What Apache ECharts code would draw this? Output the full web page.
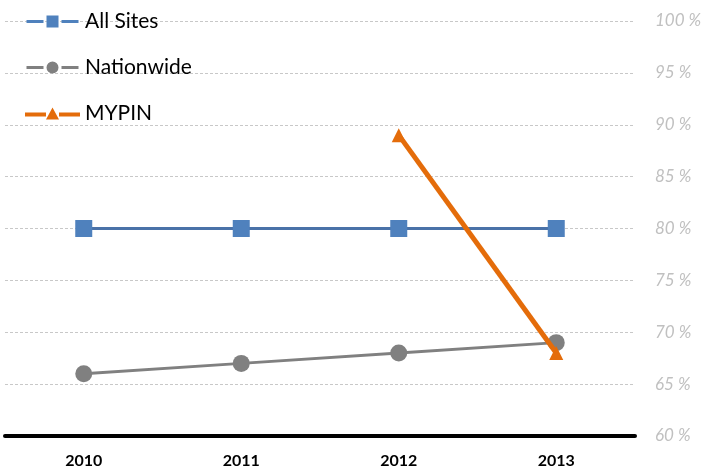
<!DOCTYPE html>
<html>
<head>
<meta charset="utf-8">
<script src="https://cdn.jsdelivr.net/npm/echarts@6/dist/echarts.min.js"></script>
<style>
  html, body { margin: 0; padding: 0; background: #fff; }
  #chart { width: 705px; height: 469px; }
</style>
</head>
<body>
<div id="chart"></div>
<script>
var years = ['2010', '2011', '2012', '2013'];
var allSites = [80, 80, 80, 80];
var nationwide = [66, 67, 68, 69];
var mypin = [null, null, 89, 68];

// legend icons: dash, marker, dash (drawn in a 55 x 12 box)
var iconSquare = 'path://M1.5,4.5H18.5V7.5H1.5ZM21.5,0H33.5V12H21.5ZM36.5,4.5H53.5V7.5H36.5Z';
var iconCircle = 'path://M1.5,4.5H18.5V7.5H1.5ZM21.5,6A6,6 0 1,1 33.5,6A6,6 0 1,1 21.5,6ZM36.5,4.5H53.5V7.5H36.5Z';
var iconTriangle = 'path://M0,5H21V9H0ZM27.5,0L34,12H21ZM34,5H55V9H34Z';

var myChart = echarts.init(document.getElementById('chart'));

myChart.setOption({
    animation: false,
    legend: {
        orient: 'vertical',
        left: 20,
        top: 6,
        itemWidth: 55,
        itemHeight: 12,
        itemGap: 25,
        textStyle: {
            fontFamily: 'Lato',
            fontSize: 21,
            color: '#000'
        },
        data: [
            { name: 'All Sites', icon: iconSquare },
            { name: 'Nationwide', icon: iconCircle },
            { name: 'MYPIN', icon: iconTriangle }
        ]
    },
    grid: {
        left: 5,
        right: 70,
        top: 21,
        bottom: 32
    },
    xAxis: {
        type: 'category',
        data: years,
        boundaryGap: true,
        axisLine: { lineStyle: { color: '#000', width: 4 } },
        axisTick: { show: false },
        axisLabel: {
            margin: 17,
            fontFamily: 'Lato',
            fontWeight: 'bold',
            fontSize: 16,
            color: '#000'
        }
    },
    yAxis: {
        type: 'value',
        position: 'right',
        min: 60,
        max: 100,
        interval: 5,
        axisLine: { show: false },
        axisTick: { show: false },
        splitLine: {
            lineStyle: { color: '#c8c8c8', type: [3, 2], width: 1 }
        },
        axisLabel: {
            margin: 20,
            formatter: '{value} %',
            fontFamily: 'Lato',
            fontStyle: 'italic',
            fontSize: 17,
            color: '#c0c0c0'
        }
    },
    series: [
        {
            name: 'All Sites',
            type: 'line',
            data: allSites,
            symbol: 'rect',
            symbolSize: 17,
            z: 2,
            itemStyle: { color: '#4f81bd' },
            lineStyle: { color: '#4a72a8', width: 3 }
        },
        {
            name: 'Nationwide',
            type: 'line',
            data: nationwide,
            symbol: 'circle',
            symbolSize: 17,
            z: 3,
            itemStyle: { color: '#808080' },
            lineStyle: { color: '#808080', width: 3 }
        },
        {
            name: 'MYPIN',
            type: 'line',
            data: mypin,
            symbol: 'triangle',
            symbolSize: 14,
            z: 4,
            itemStyle: { color: '#e46c0a' },
            lineStyle: { color: '#e46c0a', width: 5 }
        }
    ]
});
</script>
</body>
</html>
